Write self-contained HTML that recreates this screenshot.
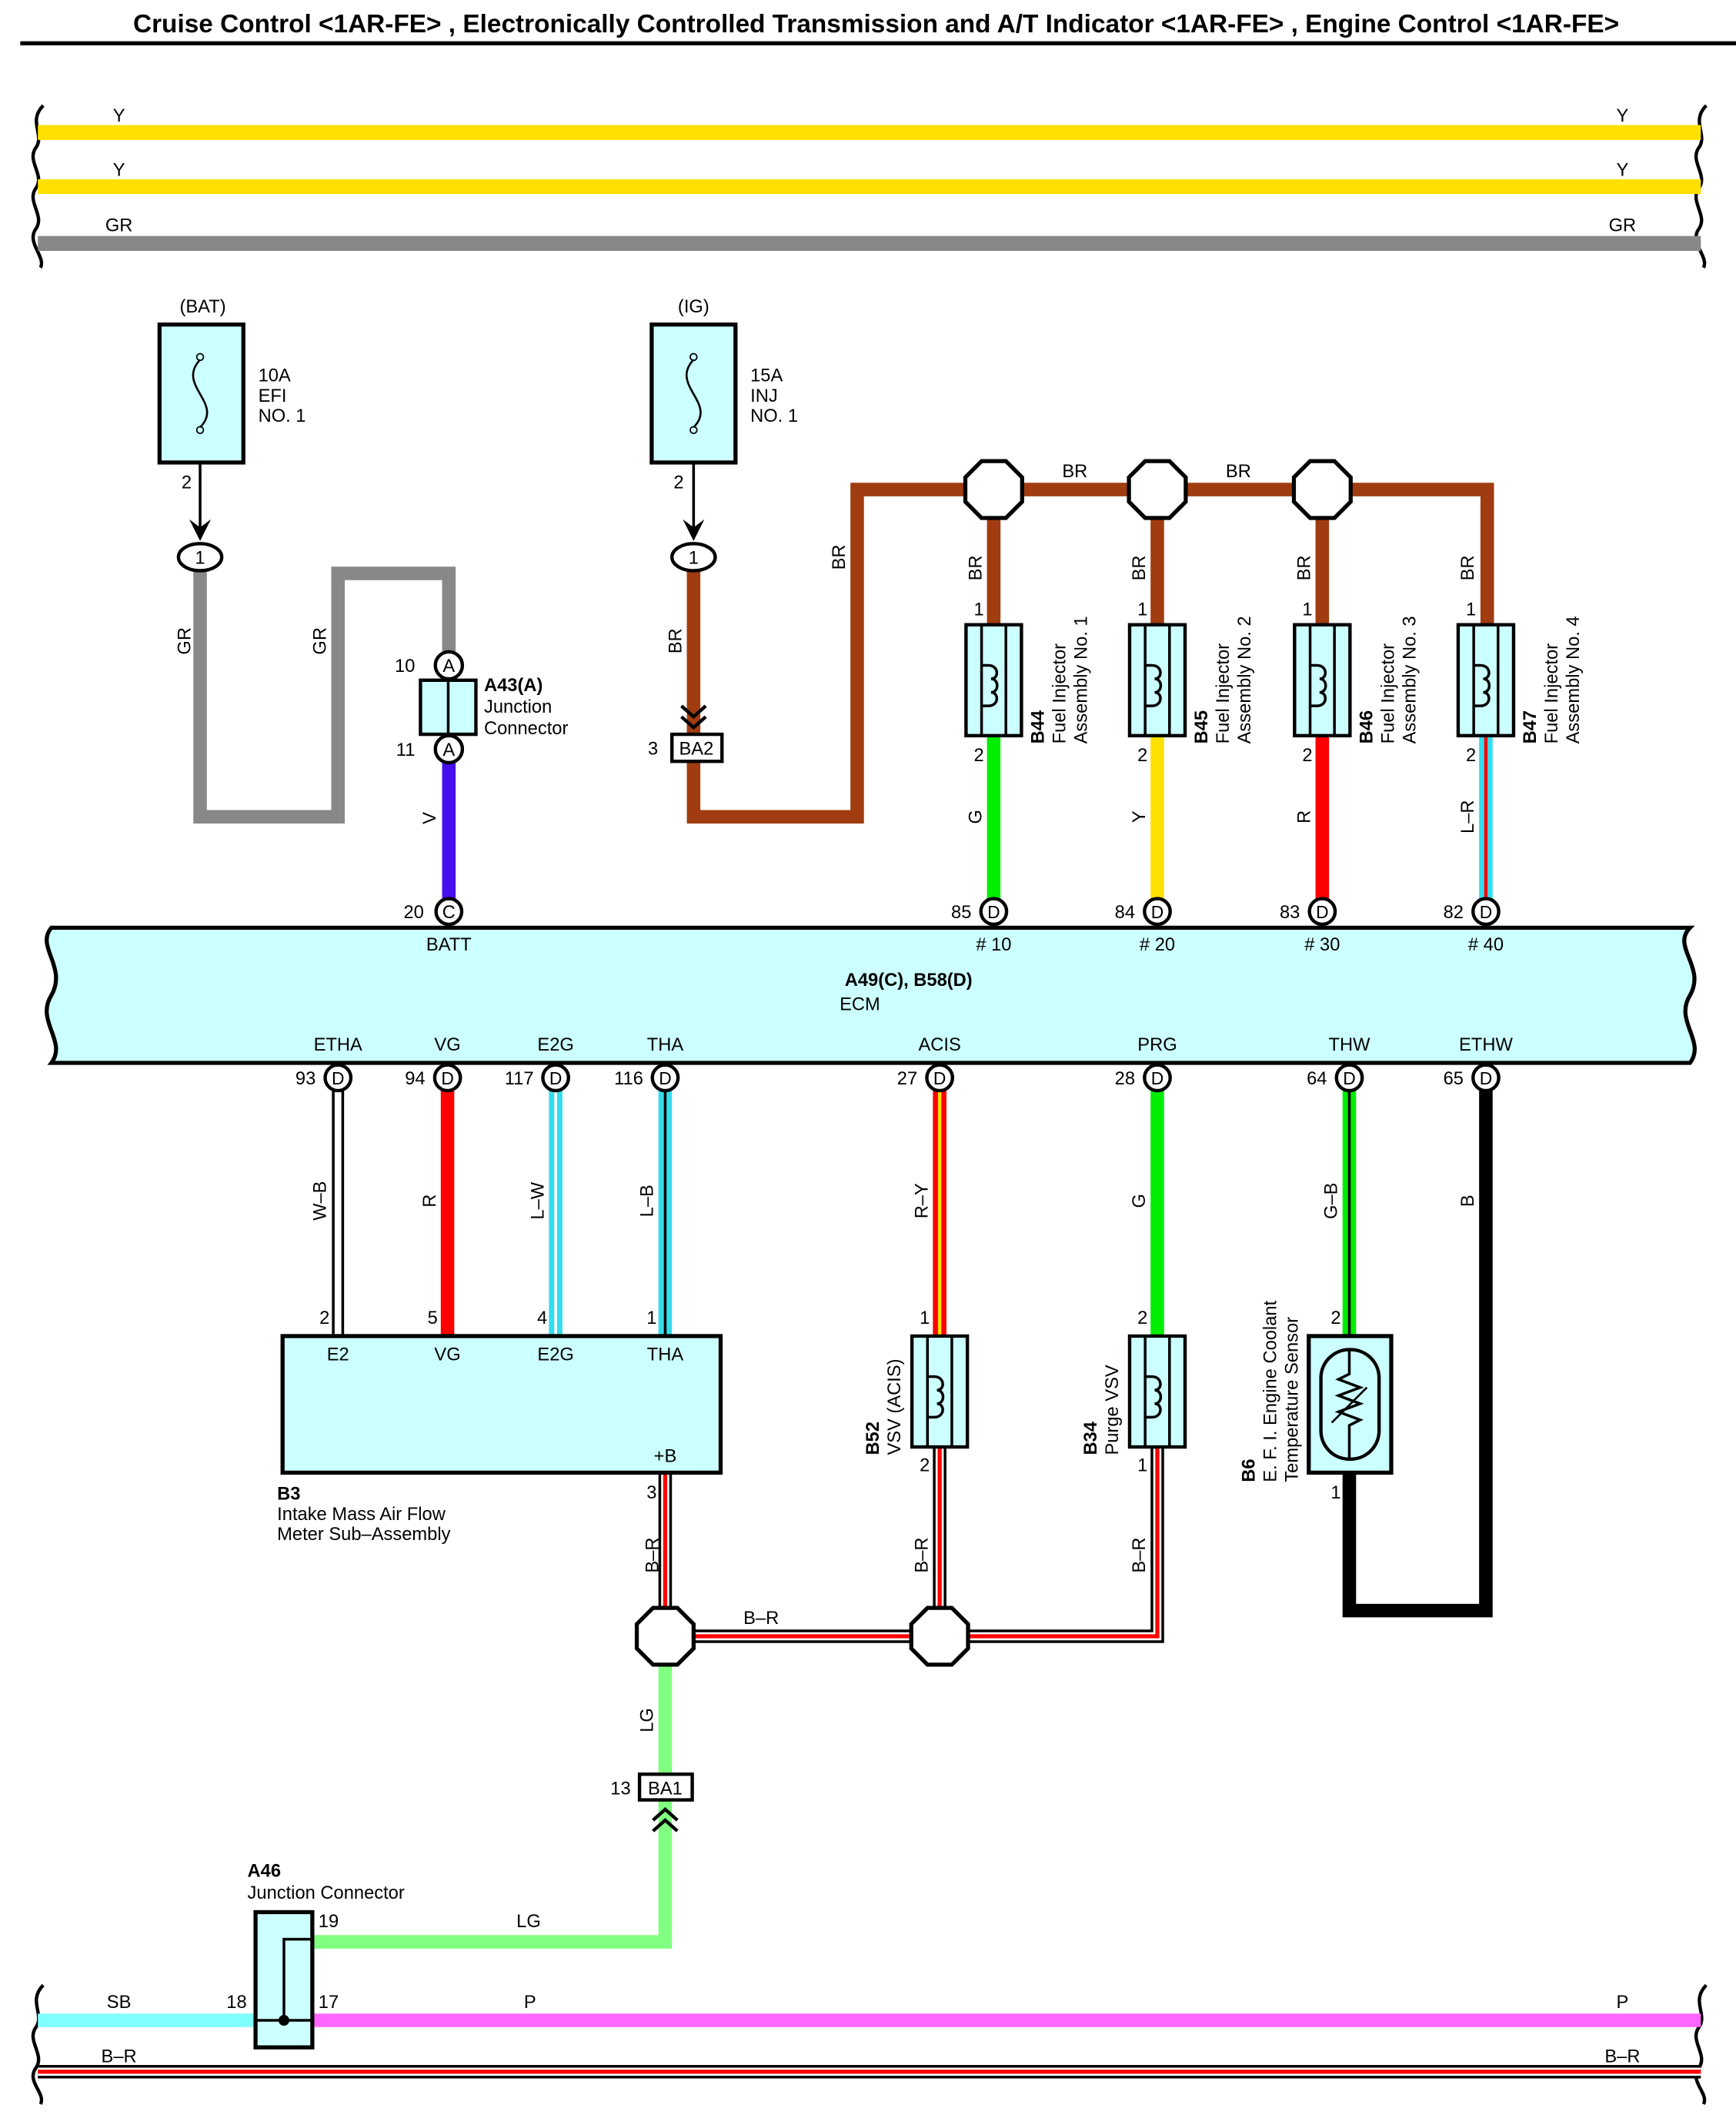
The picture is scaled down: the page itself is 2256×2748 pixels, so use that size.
<!DOCTYPE html>
<html><head><meta charset="utf-8"><style>
html,body{margin:0;padding:0;background:#fff;}
svg{display:block;}
text{font-family:"Liberation Sans",Arial,sans-serif;font-size:13.5px;fill:#000;}
.b{font-weight:bold;}
</style></head><body>
<svg width="2256" height="2748" viewBox="0 0 1284 1564" xmlns="http://www.w3.org/2000/svg">
<defs>
<g id="oct"><polygon points="-9,-21 9,-21 21,-9 21,9 9,21 -9,21 -21,9 -21,-9" fill="#fff" stroke="#000" stroke-width="3"/></g>
<g id="pinD"><circle r="9.5" fill="#fff" stroke="#000" stroke-width="2.5"/><text x="0" y="5" text-anchor="middle" style="font-size:13px">D</text></g>
<g id="coil"><rect x="-20.5" y="0" width="41" height="82" fill="#ccffff" stroke="#000" stroke-width="2.5"/><line x1="-9" y1="0" x2="-9" y2="82" stroke="#000" stroke-width="2"/><line x1="9" y1="0" x2="9" y2="82" stroke="#000" stroke-width="2"/><path d="M-9 30 L-4 30 C4 30 4 40 -2 40 C4 40 4 50 -2 50 C4 50 4 60 -4 60 L-9 60" fill="none" stroke="#000" stroke-width="2"/></g>
</defs>
<text x="648" y="24" text-anchor="middle" class="b" style="font-size:19px">Cruise Control &lt;1AR-FE&gt; , Electronically Controlled Transmission and A/T Indicator &lt;1AR-FE&gt; , Engine Control &lt;1AR-FE&gt;</text>
<line x1="15" y1="32" x2="1284" y2="32" stroke="#000" stroke-width="3"/>

<path d="M32 78 C20 90 34 100 26 110 C20 120 34 130 26 140 C20 150 34 160 26 170 C20 180 34 190 30 198" fill="none" stroke="#000" stroke-width="2.5"/>
<path d="M1262 78 C1250 90 1264 100 1256 110 C1250 120 1264 130 1256 140 C1250 150 1264 160 1256 170 C1250 180 1264 190 1260 198" fill="none" stroke="#000" stroke-width="2.5"/>
<line x1="28" y1="98" x2="1258" y2="98" stroke="#ffe000" stroke-width="11"/>
<line x1="28" y1="138" x2="1258" y2="138" stroke="#ffe000" stroke-width="11"/>
<line x1="28" y1="180" x2="1258" y2="180" stroke="#888" stroke-width="11"/>
<text x="88" y="90" text-anchor="middle">Y</text><text x="1200" y="90" text-anchor="middle">Y</text>
<text x="88" y="130" text-anchor="middle">Y</text><text x="1200" y="130" text-anchor="middle">Y</text>
<text x="88" y="171" text-anchor="middle">GR</text><text x="1200" y="171" text-anchor="middle">GR</text>

<polyline points="148,420 148,604 250,604 250,424 332,424 332,482" fill="none" stroke="#888" stroke-width="10"/>
<line x1="332" y1="564" x2="332" y2="665" stroke="#4411ee" stroke-width="10"/>
<polyline points="513,420 513,604 634,604 634,362 1100,362 1100,462" fill="none" stroke="#a03c10" stroke-width="10"/>
<line x1="735" y1="362" x2="735" y2="462" stroke="#a03c10" stroke-width="10"/>
<line x1="856" y1="362" x2="856" y2="462" stroke="#a03c10" stroke-width="10"/>
<line x1="978" y1="362" x2="978" y2="462" stroke="#a03c10" stroke-width="10"/>
<line x1="735" y1="544" x2="735" y2="665" stroke="#00ee00" stroke-width="10"/>
<line x1="856" y1="544" x2="856" y2="665" stroke="#ffe000" stroke-width="10"/>
<line x1="978" y1="544" x2="978" y2="665" stroke="#ff0000" stroke-width="10"/>
<line x1="1099" y1="544" x2="1099" y2="665" stroke="#33ddee" stroke-width="10"/>
<line x1="1099" y1="544" x2="1099" y2="665" stroke="#ff0000" stroke-width="2.5"/>

<text x="150" y="231" text-anchor="middle">(BAT)</text>
<rect x="118" y="240" width="62" height="102" fill="#ccffff" stroke="#000" stroke-width="3"/>
<circle cx="148" cy="264" r="2.5" fill="none" stroke="#000"/><circle cx="148" cy="318" r="2.5" fill="none" stroke="#000"/>
<path d="M148 266 C130 285 166 298 148 316" fill="none" stroke="#000" stroke-width="1.5"/>
<text x="191" y="282">10A</text><text x="191" y="297">EFI</text><text x="191" y="312">NO. 1</text>
<text x="138" y="361" text-anchor="middle">2</text>
<line x1="148" y1="342" x2="148" y2="392" stroke="#000" stroke-width="2"/>
<path d="M140 384 L148 400 L156 384 L148 390Z" fill="#000"/>
<ellipse cx="148" cy="412" rx="16" ry="10" fill="#fff" stroke="#000" stroke-width="2.5"/><text x="148" y="417" text-anchor="middle">1</text>
<text x="513" y="231" text-anchor="middle">(IG)</text>
<rect x="482" y="240" width="62" height="102" fill="#ccffff" stroke="#000" stroke-width="3"/>
<circle cx="513" cy="264" r="2.5" fill="none" stroke="#000"/><circle cx="513" cy="318" r="2.5" fill="none" stroke="#000"/>
<path d="M513 266 C495 285 531 298 513 316" fill="none" stroke="#000" stroke-width="1.5"/>
<text x="555" y="282">15A</text><text x="555" y="297">INJ</text><text x="555" y="312">NO. 1</text>
<text x="502" y="361" text-anchor="middle">2</text>
<line x1="513" y1="342" x2="513" y2="392" stroke="#000" stroke-width="2"/>
<path d="M505 384 L513 400 L521 384 L513 390Z" fill="#000"/>
<ellipse cx="513" cy="412" rx="16" ry="10" fill="#fff" stroke="#000" stroke-width="2.5"/><text x="513" y="417" text-anchor="middle">1</text>

<text transform="translate(141,474) rotate(-90)" text-anchor="middle">GR</text>
<text transform="translate(241,474) rotate(-90)" text-anchor="middle">GR</text>
<text transform="translate(504,474) rotate(-90)" text-anchor="middle">BR</text>
<text transform="translate(625,412) rotate(-90)" text-anchor="middle">BR</text>
<text transform="translate(322,605) rotate(-90)" text-anchor="middle">V</text>

<circle cx="332" cy="492" r="10" fill="#fff" stroke="#000" stroke-width="2.5"/><text x="332" y="497" text-anchor="middle">A</text>
<rect x="311" y="503" width="41" height="40" fill="#ccffff" stroke="#000" stroke-width="2.5"/>
<line x1="331.5" y1="503" x2="331.5" y2="543" stroke="#000" stroke-width="2"/>
<circle cx="332" cy="554" r="10" fill="#fff" stroke="#000" stroke-width="2.5"/><text x="332" y="559" text-anchor="middle">A</text>
<text x="307" y="497" text-anchor="end">10</text><text x="307" y="559" text-anchor="end">11</text>
<text x="358" y="511" class="b">A43(A)</text><text x="358" y="527">Junction</text><text x="358" y="543">Connector</text>

<path d="M504 522 L513 530 L522 522 M504 530 L513 538 L522 530" fill="none" stroke="#000" stroke-width="2.5"/>
<rect x="497" y="543" width="37" height="20" fill="#fff" stroke="#000" stroke-width="2.5"/><text x="515" y="558" text-anchor="middle">BA2</text>
<text x="483" y="558" text-anchor="middle">3</text>

<use href="#oct" x="735" y="362"/><use href="#oct" x="856" y="362"/><use href="#oct" x="978" y="362"/>
<text x="795" y="353" text-anchor="middle">BR</text><text x="916" y="353" text-anchor="middle">BR</text>

<g>
<text transform="translate(726,420) rotate(-90)" text-anchor="middle">BR</text>
<text x="724" y="455" text-anchor="middle">1</text>
<use href="#coil" x="735" y="462"/>
<text x="724" y="563" text-anchor="middle">2</text>
<text transform="translate(726,604) rotate(-90)" text-anchor="middle">G</text>
<text transform="translate(772,550) rotate(-90)" class="b">B44</text>
<text transform="translate(788,550) rotate(-90)">Fuel Injector</text>
<text transform="translate(804,550) rotate(-90)">Assembly No.  1</text>
</g>
<g>
<text transform="translate(847,420) rotate(-90)" text-anchor="middle">BR</text>
<text x="845" y="455" text-anchor="middle">1</text>
<use href="#coil" x="856" y="462"/>
<text x="845" y="563" text-anchor="middle">2</text>
<text transform="translate(847,604) rotate(-90)" text-anchor="middle">Y</text>
<text transform="translate(893,550) rotate(-90)" class="b">B45</text>
<text transform="translate(909,550) rotate(-90)">Fuel Injector</text>
<text transform="translate(925,550) rotate(-90)">Assembly No.  2</text>
</g>
<g>
<text transform="translate(969,420) rotate(-90)" text-anchor="middle">BR</text>
<text x="967" y="455" text-anchor="middle">1</text>
<use href="#coil" x="978" y="462"/>
<text x="967" y="563" text-anchor="middle">2</text>
<text transform="translate(969,604) rotate(-90)" text-anchor="middle">R</text>
<text transform="translate(1015,550) rotate(-90)" class="b">B46</text>
<text transform="translate(1031,550) rotate(-90)">Fuel Injector</text>
<text transform="translate(1047,550) rotate(-90)">Assembly No.  3</text>
</g>
<g>
<text transform="translate(1090,420) rotate(-90)" text-anchor="middle">BR</text>
<text x="1088" y="455" text-anchor="middle">1</text>
<use href="#coil" x="1099" y="462"/>
<text x="1088" y="563" text-anchor="middle">2</text>
<text transform="translate(1090,604) rotate(-90)" text-anchor="middle">L–R</text>
<text transform="translate(1136,550) rotate(-90)" class="b">B47</text>
<text transform="translate(1152,550) rotate(-90)">Fuel Injector</text>
<text transform="translate(1168,550) rotate(-90)">Assembly No.  4</text>
</g>

<path d="M38 686 L1250 686 C1236 700 1262 715 1250 736 C1238 755 1262 770 1250 786 L38 786 C50 770 26 755 38 736 C50 715 26 700 38 686Z" fill="#ccffff" stroke="#000" stroke-width="3"/>
<text x="332" y="703" text-anchor="middle">BATT</text>
<text x="735" y="703" text-anchor="middle"># 10</text><text x="856" y="703" text-anchor="middle"># 20</text>
<text x="978" y="703" text-anchor="middle"># 30</text><text x="1099" y="703" text-anchor="middle"># 40</text>
<text x="672" y="729" text-anchor="middle" class="b">A49(C), B58(D)</text>
<text x="636" y="747" text-anchor="middle">ECM</text>
<circle cx="332" cy="674" r="9.5" fill="#fff" stroke="#000" stroke-width="2.5"/><text x="332" y="679" text-anchor="middle">C</text>
<text x="306" y="679" text-anchor="middle">20</text>
<use href="#pinD" x="735" y="674"/><use href="#pinD" x="856" y="674"/><use href="#pinD" x="978" y="674"/><use href="#pinD" x="1099" y="674"/>
<text x="711" y="679" text-anchor="middle">85</text><text x="832" y="679" text-anchor="middle">84</text><text x="954" y="679" text-anchor="middle">83</text><text x="1075" y="679" text-anchor="middle">82</text>

<text x="250" y="777" text-anchor="middle">ETHA</text><text x="331" y="777" text-anchor="middle">VG</text>
<text x="411" y="777" text-anchor="middle">E2G</text><text x="492" y="777" text-anchor="middle">THA</text>
<text x="695" y="777" text-anchor="middle">ACIS</text><text x="856" y="777" text-anchor="middle">PRG</text>
<text x="998" y="777" text-anchor="middle">THW</text><text x="1099" y="777" text-anchor="middle">ETHW</text>

<line x1="250" y1="806" x2="250" y2="988" stroke="#000" stroke-width="9"/><line x1="250" y1="806" x2="250" y2="988" stroke="#fff" stroke-width="5"/>
<line x1="331" y1="806" x2="331" y2="988" stroke="#ff0000" stroke-width="10"/>
<line x1="411" y1="806" x2="411" y2="988" stroke="#33ddee" stroke-width="10"/><line x1="411" y1="806" x2="411" y2="988" stroke="#fff" stroke-width="2"/>
<line x1="492" y1="806" x2="492" y2="988" stroke="#33ddee" stroke-width="10"/><line x1="492" y1="806" x2="492" y2="988" stroke="#000" stroke-width="2"/>
<line x1="695" y1="806" x2="695" y2="988" stroke="#ff0000" stroke-width="10"/><line x1="695" y1="806" x2="695" y2="988" stroke="#ffe000" stroke-width="2.5"/>
<line x1="856" y1="806" x2="856" y2="988" stroke="#00ee00" stroke-width="10"/>
<line x1="998" y1="806" x2="998" y2="988" stroke="#00ee00" stroke-width="10"/><line x1="998" y1="806" x2="998" y2="988" stroke="#000" stroke-width="2"/>
<polyline points="1099,806 1099,1191 998,1191 998,1089" fill="none" stroke="#000" stroke-width="10"/>

<use href="#pinD" x="250" y="797"/><use href="#pinD" x="331" y="797"/><use href="#pinD" x="411" y="797"/><use href="#pinD" x="492" y="797"/>
<use href="#pinD" x="695" y="797"/><use href="#pinD" x="856" y="797"/><use href="#pinD" x="998" y="797"/><use href="#pinD" x="1099" y="797"/>
<text x="226" y="802" text-anchor="middle">93</text><text x="307" y="802" text-anchor="middle">94</text>
<text x="384" y="802" text-anchor="middle">117</text><text x="465" y="802" text-anchor="middle">116</text>
<text x="671" y="802" text-anchor="middle">27</text><text x="832" y="802" text-anchor="middle">28</text>
<text x="974" y="802" text-anchor="middle">64</text><text x="1075" y="802" text-anchor="middle">65</text>

<text transform="translate(241,888) rotate(-90)" text-anchor="middle">W–B</text>
<text transform="translate(322,888) rotate(-90)" text-anchor="middle">R</text>
<text transform="translate(402,888) rotate(-90)" text-anchor="middle">L–W</text>
<text transform="translate(483,888) rotate(-90)" text-anchor="middle">L–B</text>
<text transform="translate(686,888) rotate(-90)" text-anchor="middle">R–Y</text>
<text transform="translate(847,888) rotate(-90)" text-anchor="middle">G</text>
<text transform="translate(989,888) rotate(-90)" text-anchor="middle">G–B</text>
<text transform="translate(1090,888) rotate(-90)" text-anchor="middle">B</text>

<g fill="none">
<polyline points="492,1089 492,1210 856,1210 856,1070" stroke="#000" stroke-width="10"/>
<polyline points="492,1089 492,1210 856,1210 856,1070" stroke="#fff" stroke-width="6"/>
<polyline points="492,1089 492,1210 856,1210 856,1070" stroke="#ff0000" stroke-width="3"/>
<line x1="695" y1="1070" x2="695" y2="1210" stroke="#000" stroke-width="10"/>
<line x1="695" y1="1070" x2="695" y2="1210" stroke="#fff" stroke-width="6"/>
<line x1="695" y1="1070" x2="695" y2="1210" stroke="#ff0000" stroke-width="3"/>
</g>
<polyline points="492,1231 492,1436 232,1436" fill="none" stroke="#80ff80" stroke-width="10"/>

<rect x="209" y="988" width="324" height="101" fill="#ccffff" stroke="#000" stroke-width="3"/>
<text x="240" y="979" text-anchor="middle">2</text><text x="320" y="979" text-anchor="middle">5</text>
<text x="401" y="979" text-anchor="middle">4</text><text x="482" y="979" text-anchor="middle">1</text>
<text x="250" y="1006" text-anchor="middle">E2</text><text x="331" y="1006" text-anchor="middle">VG</text>
<text x="411" y="1006" text-anchor="middle">E2G</text><text x="492" y="1006" text-anchor="middle">THA</text>
<text x="492" y="1081" text-anchor="middle">+B</text>
<text x="482" y="1108" text-anchor="middle">3</text>
<text x="205" y="1109" class="b">B3</text>
<text x="205" y="1124">Intake Mass Air Flow</text><text x="205" y="1139">Meter Sub–Assembly</text>

<use href="#coil" x="695" y="988"/>
<text x="684" y="979" text-anchor="middle">1</text><text x="684" y="1088" text-anchor="middle">2</text>
<text transform="translate(650,1076) rotate(-90)" class="b">B52</text>
<text transform="translate(666,1076) rotate(-90)">VSV (ACIS)</text>
<use href="#coil" x="856" y="988"/>
<text x="845" y="979" text-anchor="middle">2</text><text x="845" y="1088" text-anchor="middle">1</text>
<text transform="translate(811,1076) rotate(-90)" class="b">B34</text>
<text transform="translate(827,1076) rotate(-90)">Purge VSV</text>
<text transform="translate(487,1150) rotate(-90)" text-anchor="middle">B–R</text>
<text transform="translate(686,1150) rotate(-90)" text-anchor="middle">B–R</text>
<text transform="translate(847,1150) rotate(-90)" text-anchor="middle">B–R</text>
<text x="563" y="1201" text-anchor="middle">B–R</text>

<rect x="968" y="988" width="61" height="101" fill="#ccffff" stroke="#000" stroke-width="3"/>
<rect x="977" y="998" width="43" height="81" rx="21" fill="#ccffff" stroke="#000" stroke-width="2.5"/>
<polyline points="998,998 998,1016 990,1020 1006,1026 990,1032 1006,1038 990,1044 1006,1050 998,1054 998,1079" fill="none" stroke="#000" stroke-width="2"/>
<line x1="985" y1="1052" x2="1011" y2="1026" stroke="#000" stroke-width="1.5"/>
<text x="988" y="979" text-anchor="middle">2</text><text x="988" y="1108" text-anchor="middle">1</text>
<text transform="translate(928,1096) rotate(-90)" class="b">B6</text>
<text transform="translate(944,1096) rotate(-90)">E. F. I.  Engine Coolant</text>
<text transform="translate(960,1096) rotate(-90)">Temperature Sensor</text>

<use href="#oct" x="492" y="1210"/><use href="#oct" x="695" y="1210"/>

<text transform="translate(483,1272) rotate(-90)" text-anchor="middle">LG</text>
<rect x="473" y="1312" width="39" height="19" fill="#fff" stroke="#000" stroke-width="2.5"/><text x="492" y="1327" text-anchor="middle">BA1</text>
<text x="459" y="1327" text-anchor="middle">13</text>
<path d="M483 1346 L492 1338 L501 1346 M483 1354 L492 1346 L501 1354" fill="none" stroke="#000" stroke-width="2.5"/>
<text x="391" y="1425" text-anchor="middle">LG</text>

<path d="M32 1468 C20 1480 34 1490 26 1500 C20 1510 34 1520 26 1530 C20 1540 34 1548 30 1556" fill="none" stroke="#000" stroke-width="2.5"/>
<path d="M1262 1468 C1250 1480 1264 1490 1256 1500 C1250 1510 1264 1520 1256 1530 C1250 1540 1264 1548 1260 1556" fill="none" stroke="#000" stroke-width="2.5"/>
<line x1="28" y1="1494" x2="190" y2="1494" stroke="#80ffff" stroke-width="10"/>
<line x1="230" y1="1494" x2="1258" y2="1494" stroke="#ff66ff" stroke-width="10"/>
<line x1="28" y1="1532" x2="1258" y2="1532" stroke="#000" stroke-width="10"/>
<line x1="28" y1="1532" x2="1258" y2="1532" stroke="#fff" stroke-width="6"/>
<line x1="28" y1="1532" x2="1258" y2="1532" stroke="#ff0000" stroke-width="3"/>
<text x="88" y="1485" text-anchor="middle">SB</text><text x="392" y="1485" text-anchor="middle">P</text><text x="1200" y="1485" text-anchor="middle">P</text>
<text x="88" y="1525" text-anchor="middle">B–R</text><text x="1200" y="1525" text-anchor="middle">B–R</text>

<rect x="189" y="1414" width="42" height="100" fill="#ccffff" stroke="#000" stroke-width="3"/>
<polyline points="231,1434 210,1434 210,1494" fill="none" stroke="#000" stroke-width="2"/>
<line x1="190" y1="1494" x2="230" y2="1494" stroke="#000" stroke-width="2"/>
<circle cx="210" cy="1494" r="4" fill="#000"/>
<text x="243" y="1425" text-anchor="middle">19</text><text x="175" y="1485" text-anchor="middle">18</text><text x="243" y="1485" text-anchor="middle">17</text>
<text x="183" y="1388" class="b">A46</text><text x="183" y="1404">Junction Connector</text>
</svg>
</body></html>
